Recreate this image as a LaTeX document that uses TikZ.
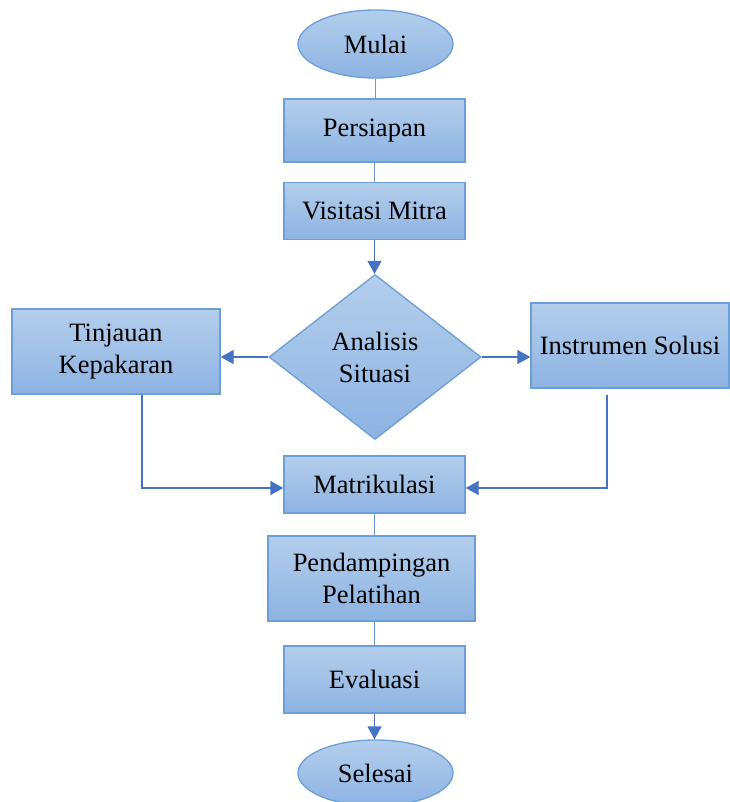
\documentclass[tikz,border=0pt]{standalone}
\usepackage{fontspec}
\setmainfont{Liberation Serif}
\usetikzlibrary{shapes.geometric,arrows.meta}
\definecolor{topc}{HTML}{B4CEEC}
\definecolor{botc}{HTML}{8DB3E2}
\definecolor{edgec}{HTML}{6A9FD8}
\definecolor{linec}{HTML}{6C9BD6}
\definecolor{arrc}{HTML}{4472C4}
\tikzset{
  shp/.style={draw=edgec, line width=1.3pt, top color=topc, bottom color=botc, inner sep=0pt,
    font=\fontsize{26.5}{32}\selectfont, align=center, text=black},
  boxn/.style={shp, rectangle},
  ovaln/.style={shp, ellipse},
  dian/.style={shp, diamond},
  plainln/.style={draw=linec, line width=1.3pt},
  arrln/.style={draw=arrc, line width=1.3pt, -{Triangle[length=13pt,width=14pt]}}
}
\begin{document}
\begin{tikzpicture}[x=1pt,y=-1pt]
\useasboundingbox (0,0) rectangle (729,802);
\node[ovaln, minimum width=155pt, minimum height=68pt] (mul) at (375.5,44) {Mulai};
\node[boxn, minimum width=181pt, minimum height=63pt] (per) at (374.5,130.5) {Persiapan};
\node[boxn, minimum width=181pt, minimum height=57pt] (vis) at (374.5,211) {Visitasi Mitra};
\node[dian, minimum width=212pt, minimum height=165pt] (dia) at (375,357) {Analisis\\Situasi};
\node[boxn, minimum width=208pt, minimum height=85pt] (tin) at (116,351.5) {Tinjauan\\Kepakaran};
\node[boxn, minimum width=198pt, minimum height=85pt] (ins) at (630,345.5) {Instrumen Solusi};
\node[boxn, minimum width=181pt, minimum height=57pt] (mat) at (374.5,484.5) {Matrikulasi};
\node[boxn, minimum width=207pt, minimum height=85pt] (pen) at (371.5,578.5) {Pendampingan\\Pelatihan};
\node[boxn, minimum width=181pt, minimum height=67pt] (eva) at (374.5,679.5) {Evaluasi};
\node[ovaln, minimum width=155pt, minimum height=66pt] (sel) at (375.5,773) {Selesai};
\draw[plainln] (mul.south) -- (mul.south |- per.north);
\draw[plainln] (per.south) -- (per.south |- vis.north);
\draw[arrln] (vis.south) -- (vis.south |- dia.north);
\draw[arrln] (dia.west) -- (dia.west -| tin.east);
\draw[arrln] (dia.east) -- (dia.east -| ins.west);
\draw[arrln] ([xshift=26pt]tin.south) |- ([yshift=-3.5pt]mat.west);
\draw[arrln] ([xshift=-23pt,yshift=-6pt]ins.south) |- ([yshift=-3.5pt]mat.east);
\draw[plainln] (mat.south) -- (mat.south |- pen.north);
\draw[plainln] (pen.south -| mat.south) -- (mat.south |- eva.north);
\draw[arrln] (eva.south) -- (eva.south |- sel.north);
\end{tikzpicture}
\end{document}
